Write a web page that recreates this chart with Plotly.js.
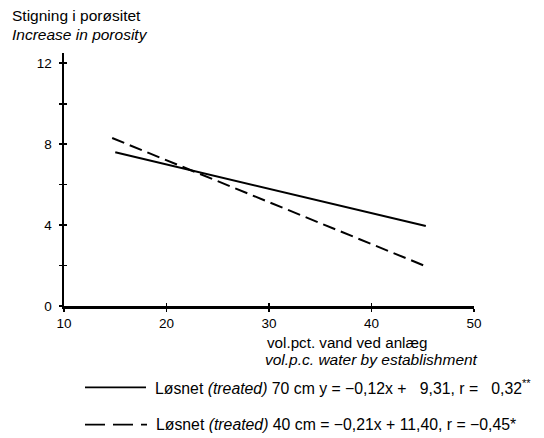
<!DOCTYPE html>
<html><head><meta charset="utf-8">
<script src="https://cdn.plot.ly/plotly-3.0.1.min.js"></script>
<style>html,body{margin:0;padding:0;background:#fff;}#chart{width:544px;height:438px;}</style>
</head><body><div id="chart"></div>
<script>
// Data
const solidX = [15, 45.3];
const solidY = [7.6, 3.95];
const dashX = [14.7, 45.5];
const dashY = [8.3, 1.92];
const xTicks = [10, 20, 30, 40, 50];
const yTicks = [0, 4, 8, 12];
const yMinorTicks = [2, 6, 10];
const legendSolid = 'Løsnet <i>(treated)</i> 70 cm y = −0,12x +   9,31, r =   0,32<sup>**</sup>';
const legendDash = 'Løsnet <i>(treated)</i> 40 cm = −0,21x + 11,40, r = −0,45*';

const F = 'Liberation Sans, Arial, sans-serif';
const TXT = 15.5;
const traces = [
  {x: solidX, y: solidY, mode: 'lines', line: {color: '#000', width: 2}, name: '70 cm', showlegend: false},
  {x: dashX, y: dashY, mode: 'lines', line: {color: '#000', width: 2, dash: '13px,6px'}, name: '40 cm', showlegend: false},
  {x: [10], y: [0], xaxis: 'x2', yaxis: 'y2', mode: 'markers', marker: {opacity: 0}, showlegend: false, hoverinfo: 'skip'}
];
const axCommon = {showgrid: false, zeroline: false, linecolor: '#000', linewidth: 2.5, tickcolor: '#000', tickwidth: 1.8, ticklen: 3};
const minorOut = {tickvals: yMinorTicks, ticks: 'outside', ticklen: 3, tickwidth: 1.8, tickcolor: '#000', showgrid: false};
const minorIn = {tickvals: yMinorTicks, ticks: 'inside', ticklen: 3, tickwidth: 1.8, tickcolor: '#000', showgrid: false};
// plot area: x 64..474 px, y 53.2..305.7 px
const PW = 410, PH = 252.5, PL = 64, PB = 305.7;
const px = v => (v - PL) / PW;
const py = v => (PB - v) / PH;
const layout = {
  width: 544, height: 438,
  margin: {l: 64, r: 70, t: 53, b: 132},
  paper_bgcolor: '#fff', plot_bgcolor: '#fff',
  font: {family: F, size: 13.5, color: '#000'},
  xaxis: Object.assign({}, axCommon, {range: [10, 50], tickvals: xTicks, ticks: 'outside', showline: true, ticklabelstandoff: 0, tickfont: {size: 13.5}}),
  yaxis: Object.assign({}, axCommon, {range: [0, 12.5], tickvals: yTicks, ticks: 'outside', minor: minorOut, showline: true, ticklabelstandoff: 4, tickfont: {size: 13.5}}),
  xaxis2: Object.assign({}, axCommon, {range: [10, 50], tickvals: xTicks, ticks: 'inside', showticklabels: false, overlaying: 'x', anchor: 'y2', showline: false}),
  yaxis2: Object.assign({}, axCommon, {range: [0, 12.5], tickvals: yTicks, ticks: 'inside', minor: minorIn, showticklabels: false, overlaying: 'y', anchor: 'x2', showline: false}),
  shapes: [
    {type: 'line', xref: 'paper', yref: 'paper', x0: px(85), x1: px(146), y0: py(387), y1: py(387), line: {color: '#000', width: 1.8}},
    {type: 'line', xref: 'paper', yref: 'paper', x0: px(85), x1: px(147), y0: py(424), y1: py(424), line: {color: '#000', width: 1.8, dash: '20px,8px'}}
  ],
  annotations: [
    {text: 'Stigning i porøsitet', xref: 'paper', yref: 'paper', x: px(10), y: py(16), xanchor: 'left', yanchor: 'middle', showarrow: false, font: {size: TXT}},
    {text: '<i>Increase in porosity</i>', xref: 'paper', yref: 'paper', x: px(10), y: py(35), xanchor: 'left', yanchor: 'middle', showarrow: false, font: {size: TXT}},
    {text: 'vol.pct. vand ved anlæg', xref: 'paper', yref: 'paper', x: px(265), y: py(342), xanchor: 'left', yanchor: 'middle', showarrow: false, font: {size: 15.2}},
    {text: '<i>vol.p.c. water by establishment</i>', xref: 'paper', yref: 'paper', x: px(263), y: py(359), xanchor: 'left', yanchor: 'middle', showarrow: false, font: {size: TXT}},
    {text: legendSolid, xref: 'paper', yref: 'paper', x: px(153), y: py(387), xanchor: 'left', yanchor: 'middle', showarrow: false, font: {size: 15.8}},
    {text: legendDash, xref: 'paper', yref: 'paper', x: px(154), y: py(424), xanchor: 'left', yanchor: 'middle', showarrow: false, font: {size: 15.8}}
  ]
};
Plotly.newPlot('chart', traces, layout, {staticPlot: true, displayModeBar: false});
</script></body></html>
